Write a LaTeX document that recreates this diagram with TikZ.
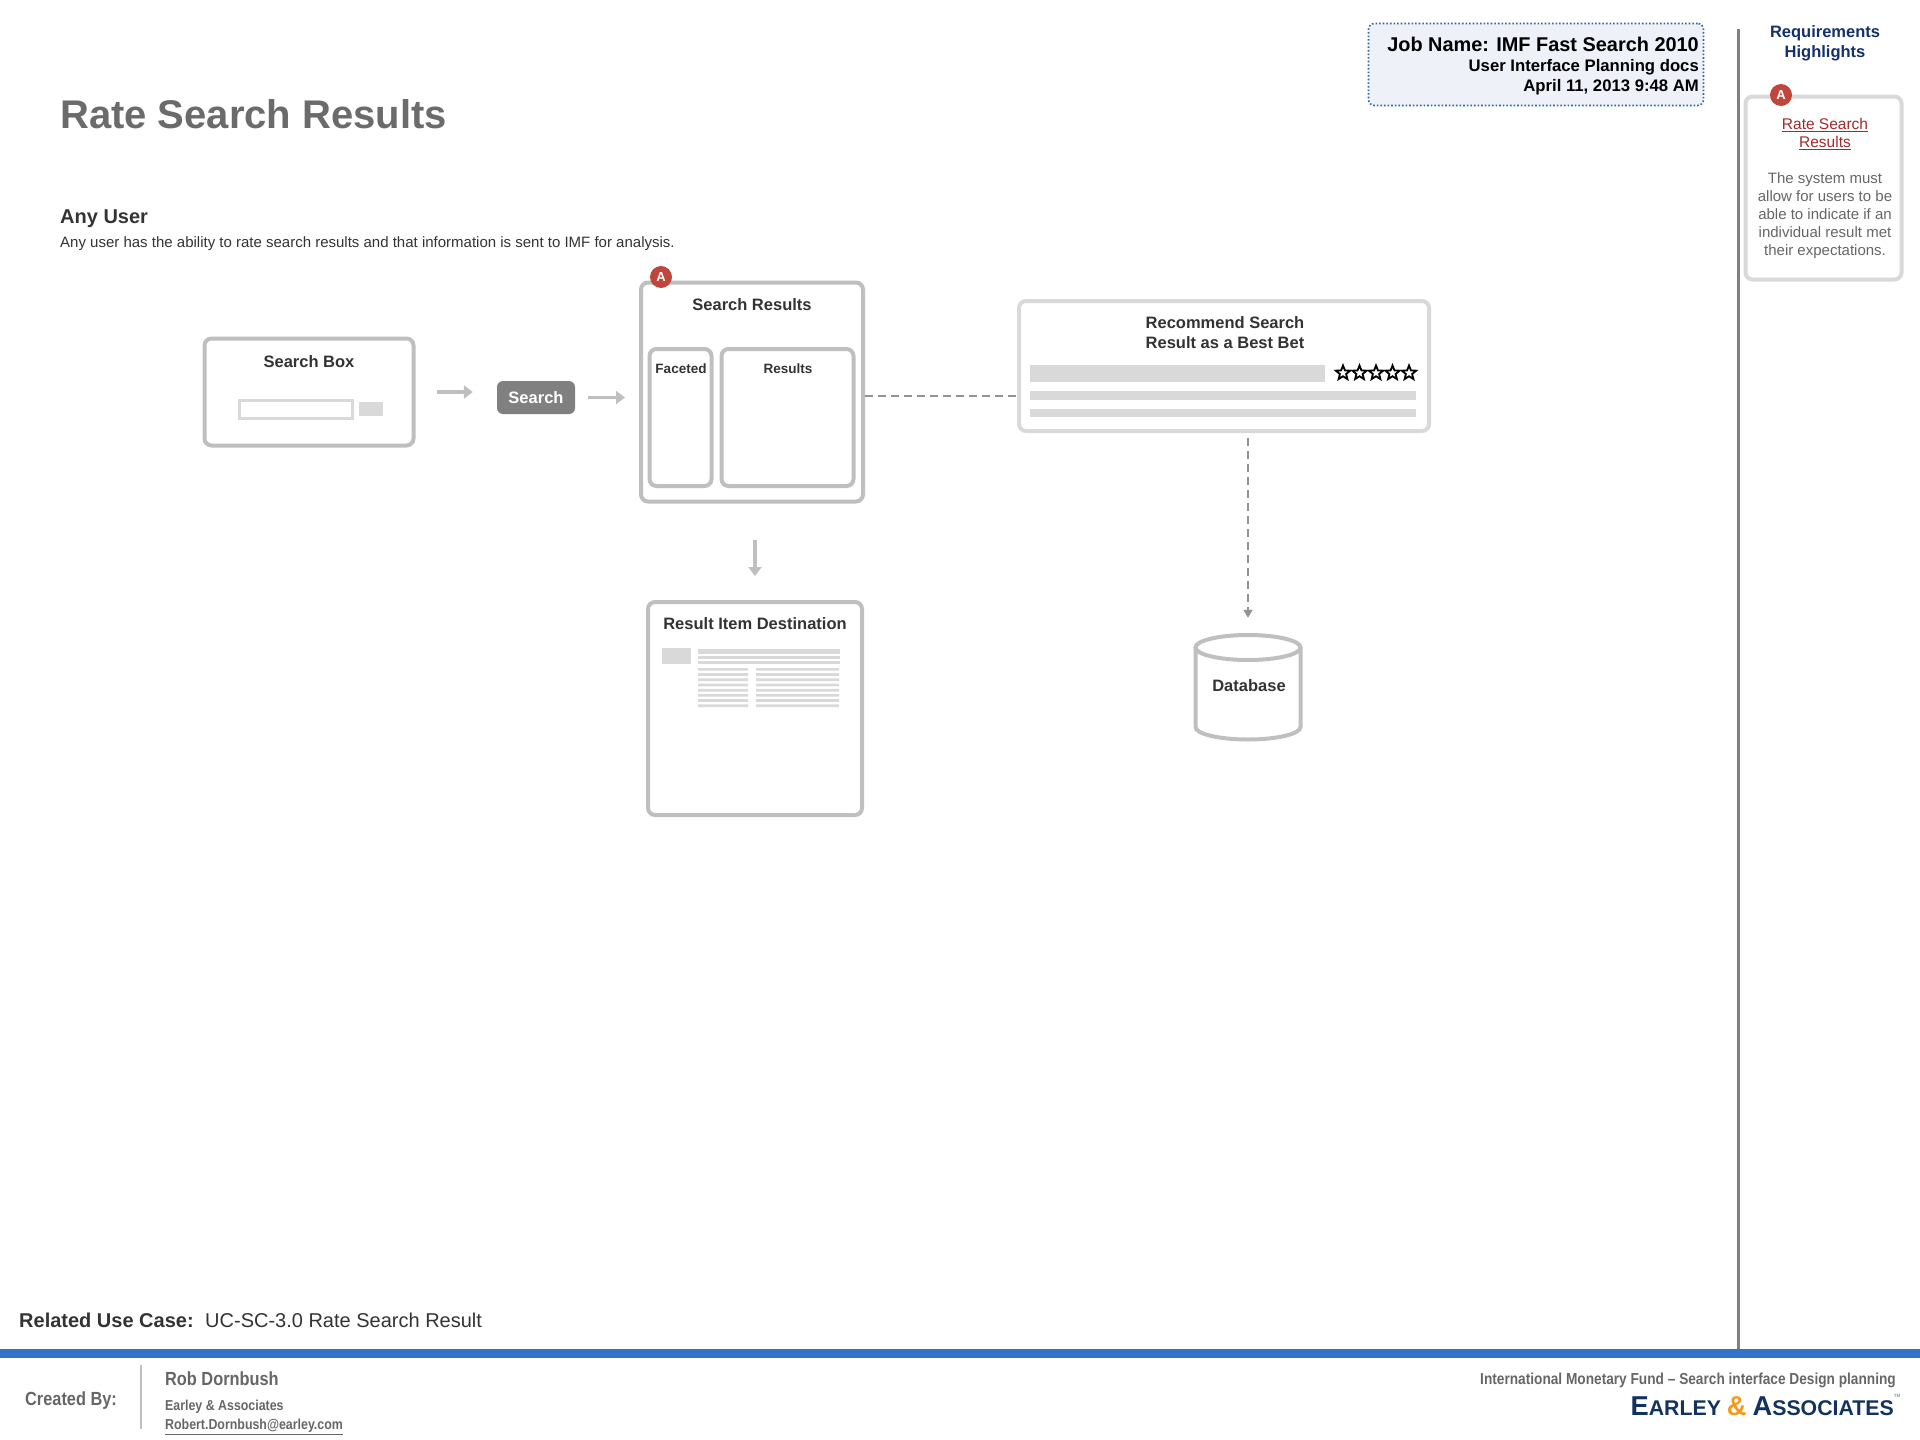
\documentclass[tikz,border=0pt]{standalone}
\usepackage{fontspec}
\setmainfont{Liberation Sans}
\newfontfamily\narrowfont[FakeStretch=0.86]{Liberation Sans}
\usepackage{xcolor}
\usepackage{tikz}
\usetikzlibrary{arrows.meta, positioning, shapes.geometric}
\definecolor{boxgray}{HTML}{BFBFBF}
\definecolor{palegray}{HTML}{D9D9D9}
\definecolor{midgray}{HTML}{808080}
\definecolor{inkgray}{HTML}{333333}
\definecolor{softgray}{HTML}{666666}
\definecolor{titlegray}{HTML}{6B6B6B}
\definecolor{jobfill}{HTML}{EEF1F7}
\definecolor{jobblue}{HTML}{2F62AE}
\definecolor{barblue}{HTML}{3172CC}
\definecolor{navy}{HTML}{12306B}
\definecolor{badgered}{HTML}{C0463C}
\definecolor{linkred}{HTML}{A32A2A}
\definecolor{logonavy}{HTML}{12335F}
\definecolor{logoorange}{HTML}{F39A1E}
\newcommand{\fs}[2]{\fontsize{#1}{#2}\selectfont}
\tikzset{
  panel/.style={draw=boxgray, line width=4pt, rounded corners=7pt, fill=white},
  lightpanel/.style={panel, draw=palegray},
  badge/.style={circle, fill=badgered, text=white, minimum size=22pt, font=\fs{13}{13}\bfseries},
  flowarrow/.style={draw=boxgray, line width=3.5pt, -{Triangle[length=9pt, width=13pt]}},
  dashlink/.style={draw=midgray!85, line width=1.8pt, dash pattern=on 8pt off 5pt},
  boxlabel/.style={text=inkgray, font=\fs{16.5}{20}\bfseries, align=center},
  ratestar/.style={star, star points=5, star point ratio=2.3, draw=black, line width=1.8pt, fill=white, minimum size=15pt}
}
\begin{document}
\begin{tikzpicture}[x=1pt, y=-1pt, every node/.style={inner sep=0pt}]
	\useasboundingbox (0,0) rectangle (1920,1440);
	% Page heading
	\node[anchor=west, text=titlegray, font=\fs{40}{44}\bfseries] (pagetitle) at (60,114) {Rate Search Results};
	\node[anchor=west, text=inkgray, font=\fs{20}{24}\bfseries] (usertitle) at (60,219) {Any User};
	\node[anchor=west, text=inkgray, font=\fs{15}{18}] (userdesc) at (60,244) {Any user has the ability to rate search results and that information is sent to IMF for analysis.};

	% Job box
	\node[draw=jobblue, line width=1.6pt, dotted, rounded corners=6pt, fill=jobfill, minimum width=335pt, minimum height=82pt] (jobbox) at (1536,64.5) {};
	\node[anchor=east, text=black, font=\fs{19.9}{24}\bfseries] (jobname) at (1699,44) {Job Name: IMF Fast Search 2010};
	\node[anchor=east, text=black, font=\fs{16.7}{20}\bfseries] (jobdocs) at (1699,67.5) {User Interface Planning docs};
	\node[anchor=east, text=black, font=\fs{16.7}{20}\bfseries] (jobdate) at (1699,87) {April 11, 2013 9:48 AM};

	% Requirements column
	\draw[midgray, line width=3pt] (1738,29) -- (1738,1349);
	\node[text=navy, font=\fs{16.5}{19.5}\bfseries, align=center] (reqtitle) at (1825,43.5) {Requirements\\Highlights};
	\node[lightpanel, minimum width=156pt, minimum height=183pt] (reqbox) at (1823.5,188) {};
	\node[badge] (reqbadge) at (1781,95) {A};
	\node[text=linkred, font=\fs{15.5}{18}, align=center] (reqlink) at (1825,134) {\underline{Rate Search}\\\underline{Results}};
	\node[text=softgray, font=\fs{15}{18}, align=center] (reqtext) at (1825,215.5) {The system must\\allow for users to be\\able to indicate if an\\individual result met\\their expectations.};

	% Search box
	\node[panel, minimum width=209pt, minimum height=107pt] (searchbox) at (309,392) {};
	\node[boxlabel] (searchboxlabel) at (309,362) {Search Box};
	\node[draw=palegray, line width=3pt, fill=white, minimum width=113pt, minimum height=18pt] (searchinput) at (296,409.5) {};
	\node[fill=palegray, minimum width=24pt, minimum height=14pt] (searchgo) at (370.5,409) {};

	% Search button
	\node[fill=midgray, rounded corners=6pt, text=white, minimum width=78pt, minimum height=33pt, font=\fs{16.5}{20}\bfseries] (searchbtn) at (536,397.5) {Search};

	% Search results
	\node[panel, minimum width=222pt, minimum height=219pt] (resultsbox) at (752,392) {};
	\node[boxlabel] (resultslabel) at (752,305) {Search Results};
	\node[panel, minimum width=62pt, minimum height=137pt] (facetbox) at (680.5,417.5) {};
	\node[panel, minimum width=132pt, minimum height=137pt] (listbox) at (787.5,417.5) {};
	\node[text=inkgray, font=\fs{13.5}{16}\bfseries] (facetlabel) at (681,369) {Faceted};
	\node[text=inkgray, font=\fs{13.5}{16}\bfseries] (listlabel) at (788,369) {Results};
	\node[badge] (resultsbadge) at (661,277) {A};

	% Best bet
	\node[lightpanel, minimum width=410pt, minimum height=130pt] (bestbet) at (1224,366) {};
	\node[boxlabel] (bestbetlabel) at (1225,332.5) {Recommend Search\\Result as a Best Bet};
	\fill[palegray] (1030,365) rectangle (1325,382);
	\fill[palegray] (1030,391) rectangle (1416,400);
	\fill[palegray] (1030,409) rectangle (1416,417);
	\node[ratestar] (star1) at (1343,373) {};
	\node[ratestar] (star2) at (1359.5,373) {};
	\node[ratestar] (star3) at (1376,373) {};
	\node[ratestar] (star4) at (1392.5,373) {};
	\node[ratestar] (star5) at (1409,373) {};

	% Destination page
	\node[panel, minimum width=214pt, minimum height=213pt] (destbox) at (755,708.5) {};
	\node[boxlabel] (destlabel) at (755,624) {Result Item Destination};
	\fill[palegray] (662,648) rectangle (691,664);
	\fill[palegray] (698,649) rectangle (840,653.5);
	\fill[palegray] (698,656) rectangle (840,658.5);
	\fill[palegray] (698,661) rectangle (840,664);
	\fill[palegray] (698,668) rectangle (748,670.7) (756,668) rectangle (839,670.7);
	\fill[palegray] (698,673.2) rectangle (748,675.9) (756,673.2) rectangle (839,675.9);
	\fill[palegray] (698,678.4) rectangle (748,681.1) (756,678.4) rectangle (839,681.1);
	\fill[palegray] (698,683.6) rectangle (748,686.3) (756,683.6) rectangle (839,686.3);
	\fill[palegray] (698,688.8) rectangle (748,691.5) (756,688.8) rectangle (839,691.5);
	\fill[palegray] (698,694) rectangle (748,696.7) (756,694) rectangle (839,696.7);
	\fill[palegray] (698,699.2) rectangle (748,701.9) (756,699.2) rectangle (839,701.9);
	\fill[palegray] (698,704.4) rectangle (748,707.1) (756,704.4) rectangle (839,707.1);

	% Database
	\node[minimum width=107pt, minimum height=107pt] (database) at (1248,687.5) {};
	\draw[boxgray, line width=4pt] (1195.5,647.5) -- (1195.5,727) arc[start angle=180, end angle=360, x radius=52.5pt, y radius=12.5pt] -- (1300.5,647.5);
	\draw[boxgray, line width=4pt] (1248,647.5) ellipse [x radius=52.5, y radius=12.5];
	\node[boxlabel] (databaselabel) at (1249,685.5) {Database};

	% Connectors
	\draw[flowarrow, shorten <=21pt, shorten >=24pt] (searchbox.east) -- (searchbox.east -| searchbtn.west);
	\draw[flowarrow, shorten <=13pt, shorten >=14pt] (searchbtn.east) -- (searchbtn.east -| resultsbox.west);
	\draw[flowarrow, shorten <=36pt, shorten >=24pt] (resultsbox.south -| destbox.north) -- (destbox.north);
	\draw[dashlink] ([yshift=-4pt]resultsbox.east) -- ([yshift=-4pt]resultsbox.east -| bestbet.west);
	\draw[dashlink, arrows={-Triangle[length=8pt, width=9pt]}, shorten <=5pt, shorten >=16pt] (bestbet.south -| database.center) -- (database.north);

	% Footer
	\node[anchor=west, text=inkgray, font=\fs{20}{24}] (usecase) at (19,1320) {\textbf{Related Use Case:}\hspace{11.5pt}UC-SC-3.0 Rate Search Result};
	\fill[barblue] (0,1349) rectangle (1920,1358);
	\node[anchor=west, text=softgray, font=\narrowfont\fs{19}{22}\bfseries] (createdby) at (25,1401) {Created By:};
	\draw[boxgray, line width=1.5pt] (141,1365) -- (141,1429);
	\node[anchor=west, text=softgray, font=\narrowfont\fs{19}{22}\bfseries] (authorname) at (165,1379) {Rob Dornbush};
	\node[anchor=west, text=softgray, font=\narrowfont\fs{14.4}{18}\bfseries] (authorfirm) at (165,1406.5) {Earley \& Associates};
	\node[anchor=west, text=softgray, font=\narrowfont\fs{14.4}{18}\bfseries] (authormail) at (165,1427) {\underline{Robert.Dornbush@earley.com}};
	\node[anchor=east, text=softgray, font=\narrowfont\fs{15.9}{18}\bfseries] (clientline) at (1896,1380) {International Monetary Fund – Search interface Design planning};
	\node[anchor=east, text=logonavy, font=\bfseries] (logotext) at (1894,1406) {\fs{27.3}{28}E\fs{21.3}{28}ARLEY \textcolor{logoorange}{\fs{27.3}{28}\&} \fs{27.3}{28}A\fs{21.3}{28}SSOCIATES};
	\node[text=softgray, font=\fs{4.5}{5}] (logotm) at (1897,1396) {TM};
\end{tikzpicture}
\end{document}
